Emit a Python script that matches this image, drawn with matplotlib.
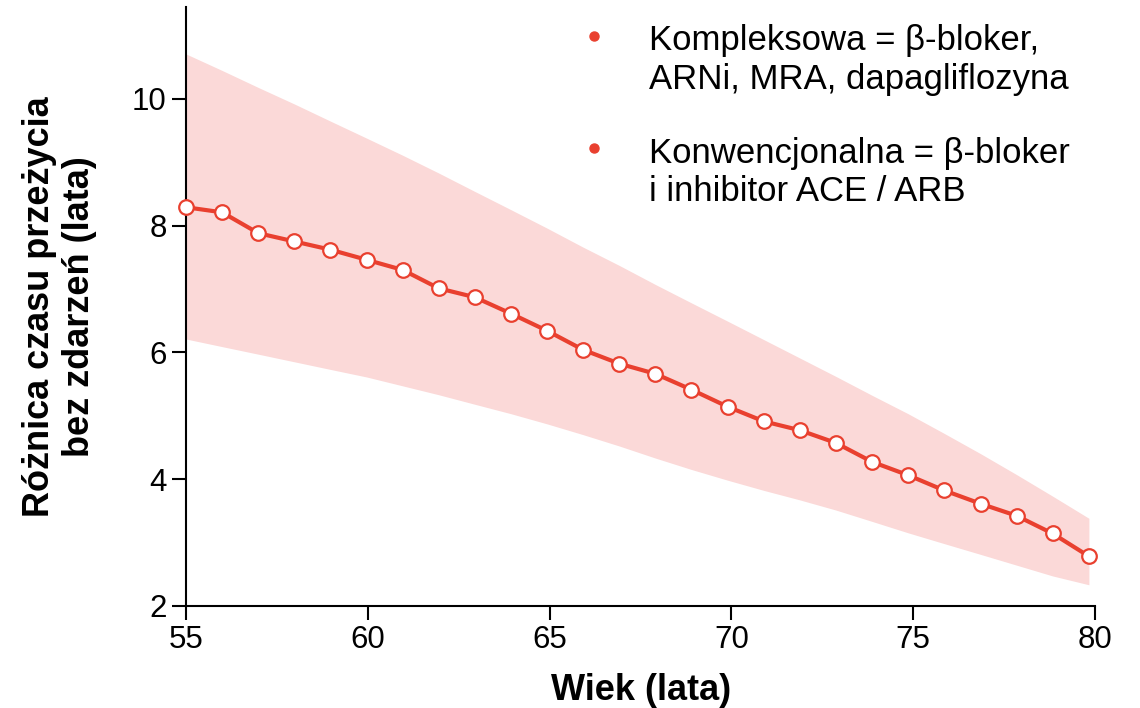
import numpy as np
import matplotlib.pyplot as plt
from matplotlib.lines import Line2D
from matplotlib.legend_handler import HandlerLine2D

plt.rcParams['font.family'] = ['Liberation Sans', 'DejaVu Sans']

# wiek (lata) - punkty
wiek = [55.00, 55.99, 56.99, 57.98, 58.97, 59.97, 60.96, 61.95, 62.94, 63.94,
        64.93, 65.92, 66.92, 67.91, 68.90, 69.90, 70.89, 71.88, 72.87, 73.87,
        74.86, 75.85, 76.85, 77.84, 78.83, 79.83]
roznica = [8.29, 8.21, 7.88, 7.75, 7.62, 7.46, 7.30, 7.01, 6.87, 6.61,
           6.34, 6.04, 5.82, 5.66, 5.41, 5.14, 4.91, 4.77, 4.57, 4.27,
           4.06, 3.82, 3.61, 3.42, 3.14, 2.78]
gorna = [10.71, 10.45, 10.18, 9.92, 9.65, 9.38, 9.11, 8.83, 8.54, 8.25,
         7.96, 7.66, 7.37, 7.07, 6.78, 6.49, 6.20, 5.91, 5.62, 5.32,
         5.03, 4.72, 4.40, 4.07, 3.73, 3.38]
dolna = [6.21, 6.09, 5.97, 5.85, 5.73, 5.61, 5.47, 5.33, 5.18, 5.03,
         4.87, 4.70, 4.52, 4.33, 4.15, 3.98, 3.82, 3.67, 3.51, 3.33,
         3.15, 2.98, 2.81, 2.64, 2.47, 2.33]

xticks = [55, 60, 65, 70, 75, 80]
yticks = [2, 4, 6, 8, 10]
opisy = ['Kompleksowa = β-bloker,\nARNi, MRA, dapagliflozyna',
         'Konwencjonalna = β-bloker\ni inhibitor ACE / ARB']

red = '#E9402F'
pink = '#FBD9D8'


# kropka legendy na wysokosci pierwszej linii opisu
class PierwszaLinia(HandlerLine2D):
    def create_artists(self, legend, orig_handle, xdescent, ydescent,
                       width, height, fontsize, trans):
        arts = super().create_artists(legend, orig_handle, xdescent, ydescent,
                                      width, height, fontsize, trans)
        for a in arts:
            a.set_ydata(np.asarray(a.get_ydata()) + 0.71 * fontsize)
        return arts


fig = plt.figure(figsize=(11.4, 7.08), dpi=100)
ax = fig.add_axes([0.1632, 0.1445, 0.7974, 0.8455])

ax.fill_between(wiek, dolna, gorna, color=pink, lw=0)
ax.plot(wiek, roznica, color=red, lw=3, marker='o', ms=10.5,
        mfc='white', mec=red, mew=1.6, clip_on=False, zorder=3)

ax.set_xlim(55, 80)
ax.set_ylim(2, 11.45)
ax.set_xticks(xticks)
ax.set_yticks(yticks)
ax.tick_params(labelsize=22.5, length=10, width=1.5, pad=4)
for s in ['top', 'right']:
    ax.spines[s].set_visible(False)
for s in ['left', 'bottom']:
    ax.spines[s].set_linewidth(1.5)

ax.set_xlabel('Wiek (lata)', fontsize=26, fontweight='bold', va='top')
ax.xaxis.set_label_coords(0.5, -0.112)
ax.set_ylabel('Różnica czasu przeżycia\nbez zdarzeń (lata)', fontsize=26,
              fontweight='bold', linespacing=1.2)
ax.yaxis.set_label_coords(-0.098, 0.5)

handles = [Line2D([], [], ls='none', marker='o', ms=6.5, color=red) for _ in opisy]
leg = ax.legend(handles, opisy, loc='upper left', bbox_to_anchor=(0.411, 1.0),
                frameon=False, fontsize=25, handletextpad=1.07, labelspacing=1.18,
                handlelength=1.0, borderaxespad=0.1,
                handler_map={Line2D: PierwszaLinia()})
for t in leg.get_texts():
    t.set_linespacing(1.2)

fig.savefig('out.png', dpi=100)
